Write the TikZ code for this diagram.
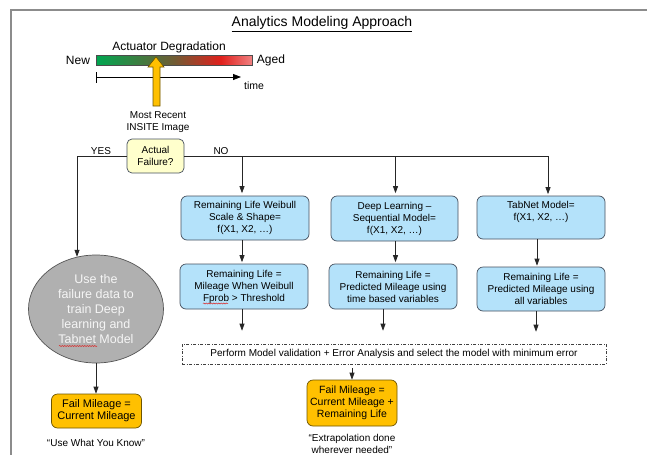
\documentclass[tikz,border=0pt]{standalone}
\usepackage{fontspec}
\setmainfont{Liberation Sans}
\usetikzlibrary{arrows.meta,shapes.geometric,calc,decorations.pathmorphing}
\definecolor{boxblue}{RGB}{180,226,250}
\definecolor{boxedge}{RGB}{70,80,95}
\definecolor{orng}{RGB}{255,192,0}
\definecolor{orngedge}{RGB}{110,85,0}
\definecolor{yel}{RGB}{255,255,204}
\definecolor{ellgray}{RGB}{176,176,176}
\definecolor{elledge}{RGB}{85,85,85}
\definecolor{framegray}{RGB}{140,140,140}
\definecolor{squig}{RGB}{220,40,40}
\definecolor{gA}{RGB}{0,166,80}
\definecolor{gB}{RGB}{112,92,52}
\definecolor{gC}{RGB}{224,32,28}
\definecolor{gD}{RGB}{240,128,128}
\pgfdeclarehorizontalshading{degr}{100bp}{color(0bp)=(gA); color(25bp)=(gA); color(50bp)=(gB); color(65bp)=(gC); color(75bp)=(gD); color(100bp)=(gD)}
\begin{document}
\begin{tikzpicture}[x=1pt,y=-1pt,
  every node/.style={inner sep=0pt, align=center},
  lab/.style={font=\fontsize{10}{12}\selectfont},
  bluebox/.style={draw=boxedge, fill=boxblue, rounded corners=6pt, line width=0.7pt, minimum width=128pt, lab},
  orangebox/.style={draw=orngedge, fill=orng, rounded corners=6pt, line width=0.7pt, minimum width=90pt},
  arr/.style={-{Triangle[width=5pt,length=7pt]}, line width=0.7pt, draw=black!85},
  spell/.style={draw=squig, line width=0.5pt, decorate, decoration={snake, amplitude=0.6pt, segment length=2.5pt}}]
\useasboundingbox (0,0) rectangle (647,455);
\fill[white] (0,0) rectangle (647,455);
\draw[framegray, line width=1.3pt] (647,10) -- (11,10) -- (11,455);

% header
\node[font=\fontsize{14}{16}\selectfont] (title) at (322,24) {\underline{Analytics Modeling Approach}};
\node[font=\fontsize{12}{14}\selectfont] (deg) at (169,47) {Actuator Degradation};
\node[font=\fontsize{12}{14}\selectfont] (new) at (78,60) {New};
\node[font=\fontsize{12}{14}\selectfont] (aged) at (271,60) {Aged};
\node[draw=black!70, line width=0.6pt, shading=degr, minimum width=156pt, minimum height=10pt] (bar) at (174,60) {};
\coordinate (t0) at (96,77);
\coordinate (t1) at (241,77);
\draw[{Bar[width=11pt]}-{Triangle[width=6pt,length=8pt]}, line width=0.8pt] (t0) -- (t1);
\node[font=\fontsize{10.5}{12}\selectfont] (time) at (254,86) {time};
\draw[draw=orngedge, fill=orng, line width=0.6pt] (153,106) -- (153,67) -- (148,67) -- (156,57) -- (164,67) -- (160,67) -- (160,106) -- cycle;
\node[lab] (img) at (158,122) {Most Recent\\INSITE Image};

% decision
\node[draw=boxedge, fill=yel, rounded corners=5pt, line width=0.7pt, minimum width=57pt, minimum height=34pt, lab] (af) at (155.5,156) {Actual\\Failure?};
\node[lab] (yes) at (101,151) {YES};
\node[lab] (no) at (221,151) {NO};

% model boxes
\node[bluebox, minimum height=44pt] (W1) at (245,218) {Remaining Life Weibull\\Scale \& Shape=\\f(X1, X2, …)};
\node[bluebox, minimum height=45pt, minimum width=127pt] (D1) at (394.5,218.5) {Deep Learning –\\Sequential Model=\\f(X1, X2, …)};
\node[bluebox, minimum height=43pt] (T1) at (541,217.5) {};
\node[lab] (T1t) at ([yshift=5.5pt]T1.center) {TabNet Model=\\f(X1, X2, …)};
\node[bluebox, minimum height=45pt] (W2) at (244,286.5) {Remaining Life =\\Mileage When Weibull\\Fprob > Threshold};
\node[bluebox, minimum height=45pt] (D2) at (393,286.5) {Remaining Life =\\Predicted Mileage using\\time based variables};
\node[bluebox, minimum height=44pt] (T2) at (541,289) {Remaining Life =\\Predicted Mileage using\\all variables};

\node[draw=black!75, line width=0.6pt, dash pattern=on 3pt off 1.5pt on 1pt off 1.5pt, minimum width=424pt, minimum height=20pt, lab] (val) at (394,354) {Perform Model validation + Error Analysis and select the model with minimum error};

\node[orangebox, minimum height=46pt, font=\fontsize{10.5}{12}\selectfont] (F2) at (352,403) {Fail Mileage =\\Current Mileage +\\Remaining Life};
\node[lab] (q2) at (352,443.5) {“Extrapolation done\\wherever needed”};

\node[ellipse, draw=elledge, fill=ellgray, line width=0.7pt, minimum width=135pt, minimum height=108pt, text=white!96!black, font=\fontsize{12.5}{15}\selectfont] (ell) at (96,309) {Use the\\failure data to\\train Deep\\learning and\\Tabnet Model};
\node[orangebox, minimum height=34pt, font=\fontsize{11}{12}\selectfont] (F1) at (96.5,411) {Fail Mileage =\\Current Mileage};
\node[lab] (q1) at (96,443) {“Use What You Know”};

% spell-check marks
\draw[spell] (203,303.5) -- (228,303.5);
\draw[spell] (59,346) -- (97,346);

% connectors
\draw[arr] (af.west) -| (ell.110);
\coordinate (nW) at (242,156);
\coordinate (nD) at (395.5,156);
\coordinate (nT) at (548,156);
\draw[line width=0.7pt, draw=black!85] (af.east) -- (nT);
\draw[arr, shorten >=2.5pt] (nW) -- (nW |- W1.north);
\draw[arr, shorten >=2.5pt] (nD) -- (nD |- D1.north);
\draw[arr, shorten >=1.5pt] (nT) -- (nT |- T1.north);
\draw[arr, shorten >=1.5pt] (W1.south -| nW) -- (W2.north -| nW);
\draw[arr, shorten >=1.5pt] (D1.south -| nD) -- (D2.north -| nD);
\draw[arr, shorten >=1pt] ([xshift=-4pt]T1.south) -- ([xshift=-4pt]T1.south |- T2.north);
\draw[arr, shorten >=13pt] (W2.south -| nW) -- (val.north -| nW);
\draw[arr, shorten >=13pt] ([xshift=-10pt]D2.south) -- ([xshift=-10pt]D2.south |- val.north);
\draw[arr, shorten >=12pt] ([xshift=-5pt]T2.south) -- ([xshift=-5pt]T2.south |- val.north);
\draw[arr, shorten <=4pt] (val.south -| F2.north) -- (F2.north);
\draw[arr] (ell.south) -- (ell.south |- F1.north);
\end{tikzpicture}
\end{document}
